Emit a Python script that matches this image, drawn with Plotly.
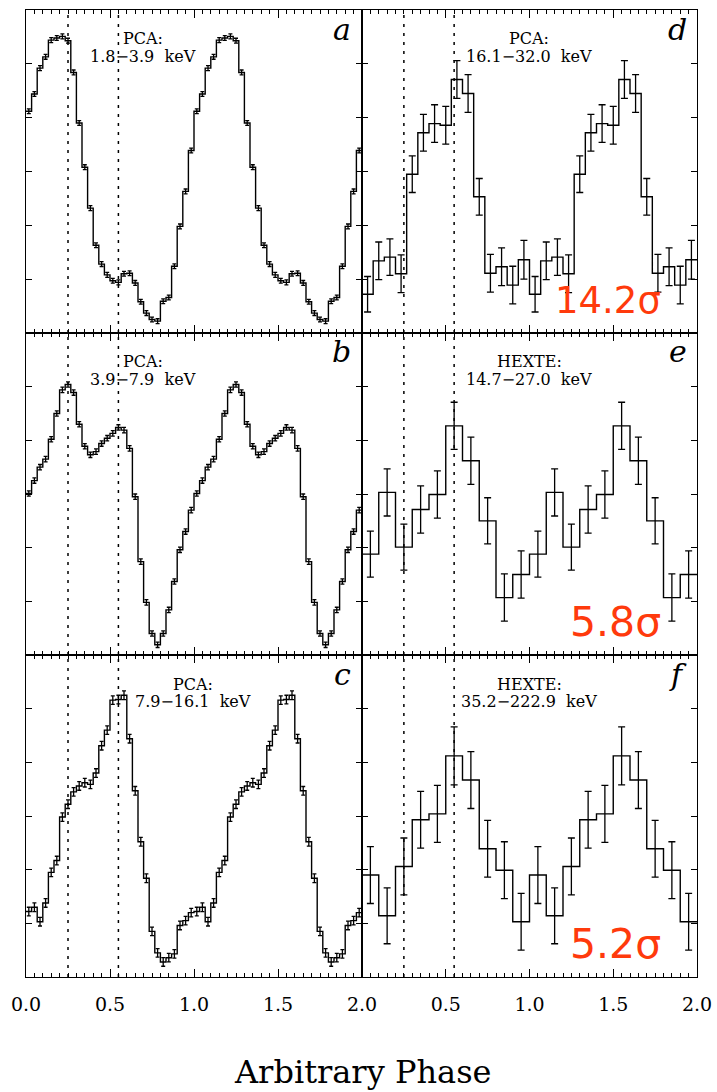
import plotly.graph_objects as go
from plotly.subplots import make_subplots

W, H = 717, 1092

# ---------------- data (one phase cycle; plotted twice) ----------------
pca_a = [4.12, 4.44, 4.92, 5.13, 5.44, 5.48, 5.51, 5.43, 4.84, 3.90,
         3.08, 2.32, 1.63, 1.28, 1.08, 0.97, 0.94, 1.10, 1.11, 0.93,
         0.58, 0.37, 0.25, 0.22, 0.59, 0.66, 1.24, 1.98, 2.63, 3.39]
err_a = [0.045] * 30

pca_b = [3.01, 3.25, 3.50, 3.65, 4.02, 4.50, 4.94, 5.04, 4.89, 4.30,
         3.89, 3.73, 3.79, 3.94, 4.04, 4.13, 4.24, 4.19, 3.85, 2.95,
         1.74, 0.98, 0.40, 0.19, 0.40, 0.84, 1.37, 1.96, 2.30, 2.70]
err_b = [0.05] * 30

pca_c = [1.22, 1.30, 1.03, 1.38, 1.95, 2.17, 2.98, 3.22, 3.45, 3.56,
         3.62, 3.59, 3.80, 4.31, 4.60, 5.16, 5.17, 5.25, 4.44, 3.47,
         2.52, 1.84, 0.85, 0.45, 0.28, 0.36, 0.43, 0.96, 1.05, 1.20]
err_c = [0.08] * 30

pca_d = [0.72, 1.34, 1.41, 1.10, 2.95, 3.72, 3.89, 3.86, 4.71, 4.45,
         2.53, 1.11, 1.23, 0.89, 1.36]
err_d = [0.33, 0.35, 0.34, 0.35, 0.34, 0.34, 0.35, 0.35, 0.35, 0.35,
         0.34, 0.35, 0.35, 0.35, 0.36]

hexte_e = [1.88, 3.03, 2.01, 2.71, 2.99, 4.27, 3.62, 2.50, 1.07, 1.50]
err_e = [0.43, 0.44, 0.43, 0.44, 0.44, 0.44, 0.44, 0.43, 0.44, 0.44]

hexte_f = [1.90, 1.14, 2.06, 2.93, 3.04, 4.12, 3.67, 2.39, 1.99, 1.03]
err_f = [0.53, 0.52, 0.53, 0.53, 0.53, 0.54, 0.53, 0.53, 0.53, 0.53]

marker_phases = [0.25, 0.55]

instr = ["PCA:", "PCA:", "PCA:", "PCA:", "HEXTE:", "HEXTE:"]
bands = ["1.8\u22123.9\u00a0\u00a0keV", "3.9\u22127.9\u00a0\u00a0keV",
         "7.9\u221216.1\u00a0\u00a0keV", "16.1\u221232.0\u00a0\u00a0keV",
         "14.7\u221227.0\u00a0\u00a0keV", "35.2\u2212222.9\u00a0\u00a0keV"]
letters = ["a", "b", "c", "d", "e", "f"]
signif = [None, None, None, "14.2\u03c3", "5.8\u03c3", "5.2\u03c3"]

x_ticks = [0.0, 0.5, 1.0, 1.5, 2.0]
x_ticktext_left = ["0.0", "0.5", "1.0", "1.5", "2.0"]
x_ticktext_right = ["", "0.5", "1.0", "1.5", "2.0"]
y_ticks = [1, 2, 3, 4, 5]

# ---------------- layout geometry (pixels) ----------------
col_px = [(26, 362), (362, 697)]
row_px = [(10, 333), (333, 655), (655, 977)]


def px_x(p):
    return p / W


def px_y(p):
    return 1 - p / H


panels = [
    # (row, col, values, errors, errbar half width)
    (0, 0, pca_a, err_a, 2),
    (1, 0, pca_b, err_b, 2),
    (2, 0, pca_c, err_c, 2),
    (0, 1, pca_d, err_d, 3.5),
    (1, 1, hexte_e, err_e, 3.5),
    (2, 1, hexte_f, err_f, 3.5),
]

fig = make_subplots(rows=3, cols=2, horizontal_spacing=0, vertical_spacing=0)

SERIF = "DejaVu Serif"
RED = "#ff3a0c"

for (r, c, vals, errs, capw) in panels:
    li = r if c == 0 else 3 + r
    n = len(vals)
    w = 1.0 / n
    v2 = vals + vals
    e2 = errs + errs
    edges = [i * w for i in range(2 * n + 1)]
    centers = [(i + 0.5) * w for i in range(2 * n)]
    fig.add_trace(go.Scatter(x=edges, y=v2 + [v2[-1]], mode="lines",
                             line=dict(shape="hv", color="black", width=1.4),
                             showlegend=False, hoverinfo="skip"),
                  row=r + 1, col=c + 1)
    fig.add_trace(go.Scatter(x=centers, y=v2, mode="markers",
                             marker=dict(size=1, color="rgba(0,0,0,0)"),
                             error_y=dict(type="data", array=e2, visible=True,
                                          color="black", thickness=1.3, width=capw),
                             showlegend=False, hoverinfo="skip"),
                  row=r + 1, col=c + 1)

    k = r * 2 + c + 1
    xa = "xaxis" if k == 1 else f"xaxis{k}"
    ya = "yaxis" if k == 1 else f"yaxis{k}"
    xref = "x" if k == 1 else f"x{k}"
    yref = "y" if k == 1 else f"y{k}"

    x0, x1 = col_px[c]
    y0, y1 = row_px[r]
    bottom = (r == 2)
    fig.layout[xa].update(
        domain=[px_x(x0), px_x(x1)], range=[0, 2], showgrid=False, zeroline=False,
        automargin=False,
        showline=True, linecolor="black", linewidth=1.3, mirror="ticks",
        ticks="inside", ticklen=8, tickwidth=1.2, tickcolor="black",
        tickmode="array", tickvals=x_ticks,
        ticktext=(x_ticktext_left if c == 0 else x_ticktext_right),
        showticklabels=bottom, ticklabelstandoff=10,
        tickfont=dict(family=SERIF, size=19, color="black"),
        minor=dict(ticks="inside", ticklen=4, tickwidth=1, tickcolor="black",
                   tick0=0, dtick=0.05),
    )
    fig.layout[ya].update(
        domain=[px_y(y1), px_y(y0)], range=[0, 6], showgrid=False, zeroline=False,
        automargin=False,
        showline=True, linecolor="black", linewidth=1.3, mirror="ticks",
        ticks="inside", ticklen=6, tickwidth=1.2, tickcolor="black",
        tickmode="array", tickvals=y_ticks, showticklabels=False,
    )

    for ph in marker_phases:
        fig.add_shape(type="line", xref=xref, yref=f"{yref} domain",
                      x0=ph, x1=ph, y0=0, y1=1,
                      line=dict(color="black", width=1.5, dash="3px,6px"))

    # text labels
    cx = 143 if (c == 0 and r < 2) else (193 if c == 0 else 529)
    fig.add_annotation(x=px_x(cx), y=px_y(y0 + 29), xref="paper", yref="paper",
                       text=instr[li],
                       showarrow=False, xanchor="center", yanchor="middle",
                       font=dict(family=SERIF, size=16, color="black"))
    fig.add_annotation(x=px_x(cx), y=px_y(y0 + 46), xref="paper", yref="paper",
                       text=bands[li],
                       showarrow=False, xanchor="center", yanchor="middle",
                       font=dict(family=SERIF, size=16, color="black"))
    lx = 353 if c == 0 else 689
    fig.add_annotation(x=px_x(lx), y=px_y(y0 + 19), xref="paper", yref="paper",
                       text=f"<i>{letters[li]}</i>",
                       showarrow=False, xanchor="right", yanchor="middle",
                       font=dict(family=SERIF, size=30, color="black"))
    s = signif[li]
    if s:
        size = 37 if r == 0 else 41
        fig.add_annotation(x=px_x(663), y=px_y(y1 - 33), xref="paper", yref="paper",
                           text=s, showarrow=False, xanchor="right", yanchor="middle",
                           font=dict(family="DejaVu Sans", size=size, color=RED))

fig.add_annotation(x=px_x(362), y=px_y(1072), xref="paper", yref="paper",
                   text="Arbitrary Phase", showarrow=False,
                   xanchor="center", yanchor="middle",
                   font=dict(family=SERIF, size=32, color="black"))

fig.update_layout(width=W, height=H,
                  margin=dict(l=0, r=0, t=0, b=0, autoexpand=False),
                  paper_bgcolor="white", plot_bgcolor="white", showlegend=False)

fig.write_html("out.html")
